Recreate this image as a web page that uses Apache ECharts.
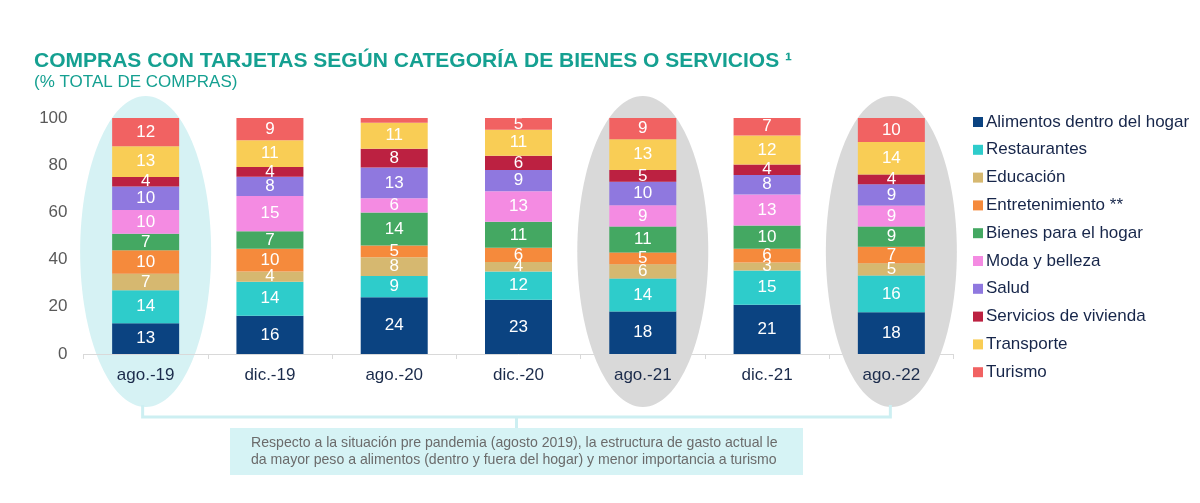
<!DOCTYPE html>
<html>
<head>
<meta charset="UTF-8">
<title>Compras con tarjetas</title>
<style>
	html,body{margin:0;padding:0;background:#fff}
	#chart{width:1200px;height:503px}
</style>
</head>
<body>
<div id="chart"></div>
<script src="https://cdn.jsdelivr.net/npm/echarts@6/dist/echarts.min.js"></script>
<script>
// periodos
var categories = ['ago.-19', 'dic.-19', 'ago.-20', 'dic.-20', 'ago.-21', 'dic.-21', 'ago.-22'];

// % del total de compras, por categoria (de abajo hacia arriba)
var alimentos       = [13, 16.2, 24, 23, 18, 20.9, 17.7];
var restaurantes    = [14, 14.4, 9, 12, 14, 14.5, 15.6];
var educacion       = [7, 4.4, 8, 4, 6, 3.4, 5.2];
var entretenimiento = [10, 9.6, 5, 6, 5, 5.8, 6.9];
var bienesHogar     = [7, 7.4, 14, 11, 11, 9.8, 8.6];
var moda            = [10, 14.9, 6, 13, 9, 13.2, 8.9];
var salud           = [10, 8.2, 13, 9, 10, 8.3, 9.0];
var servicios       = [4, 4.1, 8, 6, 5, 4.4, 4.2];
var transporte      = [13, 11.4, 11, 11, 13, 12.3, 13.7];
var turismo         = [12, 9.4, 2, 5, 9, 7.4, 10.2];

var seriesNames = ['Alimentos dentro del hogar', 'Restaurantes', 'Educación', 'Entretenimiento **',
	'Bienes para el hogar', 'Moda y belleza', 'Salud', 'Servicios de vivienda', 'Transporte', 'Turismo'];
var seriesData = [alimentos, restaurantes, educacion, entretenimiento, bienesHogar, moda, salud, servicios, transporte, turismo];
var colorList = ['#0b4381', '#2ecccb', '#d6b870', '#f58a3c', '#44a862', '#f48be2', '#8f78df', '#bc2141', '#f9cd55', '#f16262'];

var yTicks = [0, 20, 40, 60, 80, 100];

var chart = echarts.init(document.getElementById('chart'));

var series = [];
for (var i = 0; i < seriesNames.length; i++) {
	series.push({
		name: seriesNames[i],
		type: 'bar',
		stack: 'total',
		barWidth: 67,
		itemStyle: { color: colorList[i] },
		label: {
			show: true,
			color: '#fff',
			fontSize: 17,
			fontFamily: 'Liberation Sans, Arial, sans-serif',
			formatter: function (p) {
				return p.value < 3 ? '' : Math.round(p.value);
			}
		},
		data: seriesData[i]
	});
}

var option = {
	animation: false,
	textStyle: { fontFamily: 'Liberation Sans, Arial, sans-serif' },
	title: {
		text: 'COMPRAS CON TARJETAS SEGÚN CATEGORÍA DE BIENES O SERVICIOS ¹',
		subtext: '(% TOTAL DE COMPRAS)',
		left: 29,
		top: 46,
		itemGap: 2,
		textStyle: { color: '#15a091', fontSize: 21, fontWeight: 'bold' },
		subtextStyle: { color: '#15a091', fontSize: 17 }
	},
	legend: {
		orient: 'vertical',
		left: 968,
		top: 108,
		icon: 'rect',
		itemWidth: 10,
		itemHeight: 10,
		itemGap: 9.8,
		textStyle: { color: '#17264a', fontSize: 17, lineHeight: 18, padding: [0, 0, 0, -2] },
		data: seriesNames
	},
	grid: { left: 83.5, right: 246.5, top: 118, bottom: 149 },
	xAxis: {
		type: 'category',
		data: categories,
		axisLine: { lineStyle: { color: '#d9d9d9', width: 1 } },
		axisTick: { show: true, length: 5, lineStyle: { color: '#d9d9d9' } },
		axisLabel: { color: '#1b2b4b', fontSize: 17, margin: 13 }
	},
	yAxis: {
		type: 'value',
		min: yTicks[0],
		max: yTicks[yTicks.length - 1],
		interval: 20,
		axisLine: { show: false },
		axisTick: { show: false },
		splitLine: { show: false },
		axisLabel: { color: '#595959', fontSize: 17, margin: 16 }
	},
	series: series
};
chart.setOption(option);

// elipses, llave y recuadro de comentario
function px(cat) {
	return chart.convertToPixel({ xAxisIndex: 0 }, cat);
}
var ellCy = 251.5, ellRx = 65.5, ellRy = 155.5;
var x0 = px('ago.-19'), x1 = px('ago.-22');
var xm = 516.5;
var lineColor = '#cdeff2';

chart.setOption({
	graphic: [
		{ type: 'ellipse', z: -1, shape: { cx: x0, cy: ellCy, rx: ellRx, ry: ellRy }, style: { fill: '#d6f2f4' }, silent: true },
		{ type: 'ellipse', z: -1, shape: { cx: px('ago.-21'), cy: ellCy, rx: ellRx, ry: ellRy }, style: { fill: '#d9d9d9' }, silent: true },
		{ type: 'ellipse', z: -1, shape: { cx: x1, cy: ellCy, rx: ellRx, ry: ellRy }, style: { fill: '#d9d9d9' }, silent: true },
		{ type: 'polyline', shape: { points: [[x0 - 3, 405], [x0 - 3, 417], [x1 - 1, 417], [x1 - 1, 405]] }, style: { stroke: lineColor, lineWidth: 3, fill: null }, silent: true },
		{ type: 'line', shape: { x1: xm, y1: 417, x2: xm, y2: 428 }, style: { stroke: lineColor, lineWidth: 3 }, silent: true },
		{ type: 'rect', shape: { x: 230, y: 428, width: 573, height: 47 }, style: { fill: '#d6f3f5' }, silent: true },
		{
			type: 'text', left: 251, top: 435, silent: true,
			style: {
				text: 'Respecto a la situación pre pandemia (agosto 2019), la estructura de gasto actual le\nda mayor peso a alimentos (dentro y fuera del hogar) y menor importancia a turismo',
				fill: '#6b6b6b',
				font: '14.1px Liberation Sans, Arial, sans-serif',
				lineHeight: 16.5
			}
		}
	]
});
</script>
</body>
</html>
